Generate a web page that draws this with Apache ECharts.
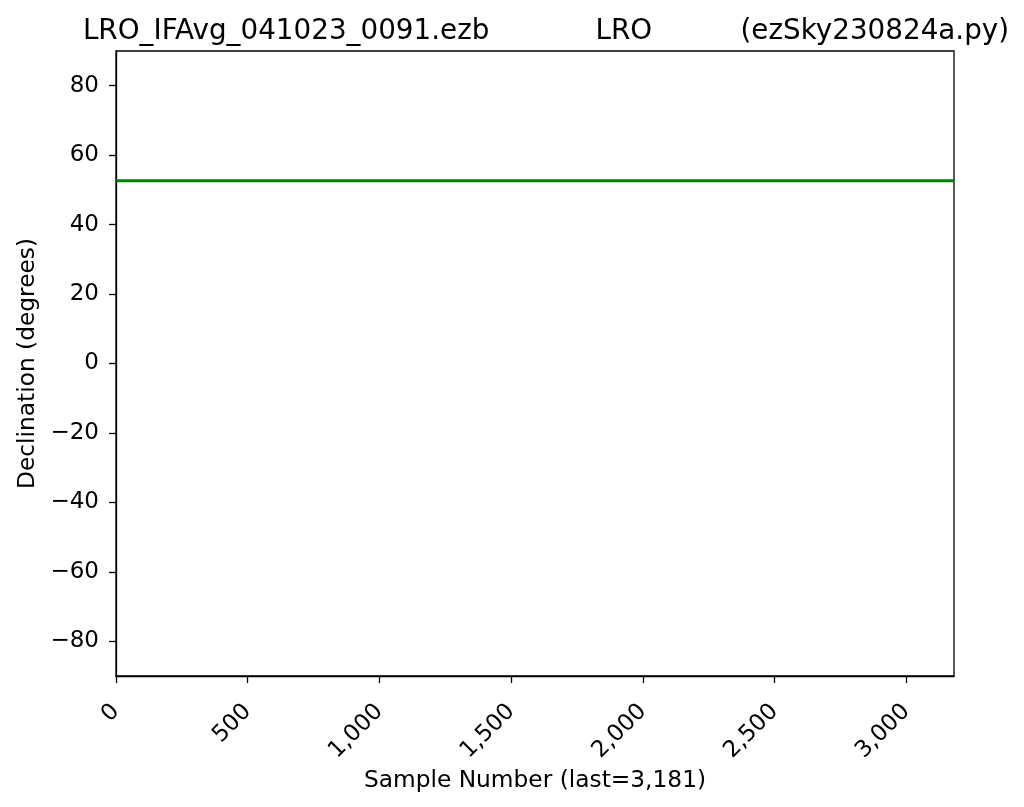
<!DOCTYPE html>
<html><head><meta charset="utf-8">
<script src="https://cdn.jsdelivr.net/npm/echarts@6/dist/echarts.min.js"></script>
<style>html,body{margin:0;padding:0;background:#fff}#c{width:1024px;height:807px}</style>
</head><body><div id="c"></div>
<script>
const titleText = 'LRO_IFAvg_041023_0091.ezb            LRO          (ezSky230824a.py)';
const xName = 'Sample Number (last=3,181)';
const yName = 'Declination (degrees)';
const sampleNumbers = [0, 500, 1000, 1500, 2000, 2500, 3000, 3181];
const declination = [52.6, 52.6, 52.6, 52.6, 52.6, 52.6, 52.6, 52.6];
const xTicks = [0, 500, 1000, 1500, 2000, 2500, 3000];
const yTicks = [-80, -60, -40, -20, 0, 20, 40, 60, 80];
const xMax = 3181;

const font = 'DejaVu Sans';
const chart = echarts.init(document.getElementById('c'), null, {renderer: 'canvas'});
chart.setOption({
  backgroundColor: '#fff',
  animation: false,
  title: {text: titleText, left: 541, top: 13, textAlign: 'center',
    textStyle: {fontFamily: font, fontSize: 27.8, fontWeight: 'normal', color: '#000'}},
  grid: {left: 116, right: 70, top: 51, bottom: 131, show: true, borderColor: '#000', borderWidth: 1.3, backgroundColor: 'transparent'},
  xAxis: {
    type: 'value', min: 0, max: xMax,
    name: xName, nameLocation: 'middle', nameGap: 88,
    nameTextStyle: {fontFamily: font, fontSize: 23.3, color: '#000'},
    axisLine: {show: true, onZero: false, lineStyle: {color: '#000', width: 1.3}},
    axisTick: {show: true, length: 7, lineStyle: {color: '#000', width: 1.3}, customValues: xTicks},
    axisLabel: {rotate: 45, margin: 32, fontFamily: font, fontSize: 23, color: '#000', customValues: xTicks,
      formatter: v => v.toLocaleString('en-US')},
    splitLine: {show: false}
  },
  yAxis: {
    type: 'value', min: -90, max: 90,
    name: yName, nameLocation: 'middle', nameGap: 76, nameRotate: 90,
    nameTextStyle: {fontFamily: font, fontSize: 23.3, color: '#000'},
    axisLine: {show: true, onZero: false, lineStyle: {color: '#000', width: 1.3}},
    axisTick: {show: true, length: 7, lineStyle: {color: '#000', width: 1.3}, customValues: yTicks},
    axisLabel: {margin: 17, fontFamily: font, fontSize: 23, color: '#000', customValues: yTicks,
      formatter: v => (v < 0 ? '\u2212' + Math.abs(v) : String(v))},
    splitLine: {show: false}
  },
  series: [{
    type: 'line', data: sampleNumbers.map((x, i) => [x, declination[i]]),
    showSymbol: false, lineStyle: {color: '#008000', width: 3}, itemStyle: {color: '#008000'}
  }]
});
</script></body></html>
